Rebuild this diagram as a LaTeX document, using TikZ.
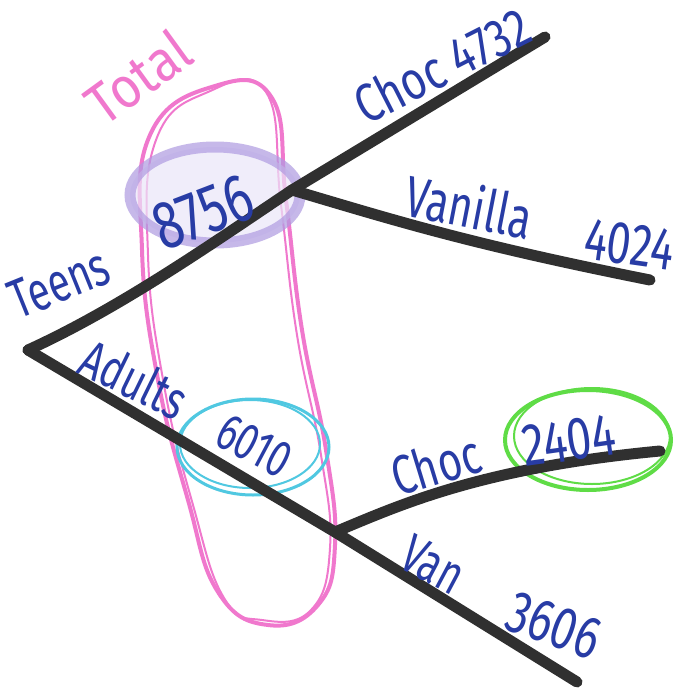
\documentclass[tikz,border=0pt]{standalone}
\usepackage{fontspec}
\setmainfont{Fira Sans}
\usepackage{graphicx}
\definecolor{penblue}{RGB}{40,60,165}
\definecolor{inkgray}{RGB}{48,48,48}
\definecolor{pinkhl}{RGB}{240,120,205}
\definecolor{purplehl}{RGB}{175,155,225}
\definecolor{cyanhl}{RGB}{80,200,225}
\definecolor{greenhl}{RGB}{95,220,70}
\newcommand{\hw}[3]{\scalebox{#2}[1]{\fontsize{#1}{#1}\selectfont #3}}
\begin{document}
\begin{tikzpicture}[x=1pt,y=-1pt,
  branch/.style={line width=11pt, draw=inkgray, line cap=round, line join=round},
  lab/.style={text=penblue, inner sep=0pt, anchor=base west},
  hl/.style={line width=4pt}
]
\useasboundingbox (0,0) rectangle (685,693);
\fill[white] (0,0) rectangle (685,693);

% highlighter marks
\draw[pinkhl, hl] plot[smooth cycle, tension=0.75] coordinates {
  (215,86) (272,98) (286,200) (302,330) (326,450) (335,545) (318,605) (268,625)
  (218,592) (188,500) (158,380) (142,250) (150,135)};
\draw[pinkhl, line width=2pt] plot[smooth cycle, tension=0.75] coordinates {
  (208,92) (266,92) (281,205) (297,335) (321,455) (330,548) (311,610) (262,620)
  (224,598) (193,505) (164,385) (148,255) (156,140)};
\draw[purplehl, line width=11pt, fill=purplehl!25, opacity=0.7]
  (215,195) ellipse [x radius=85, y radius=48];
\draw[cyanhl, line width=3pt] (253,447) ellipse [x radius=76, y radius=48];
\draw[cyanhl, line width=2pt] (250,444) ellipse [x radius=70, y radius=44];
\draw[greenhl, line width=4pt] (588,440) ellipse [x radius=83, y radius=50];
\draw[greenhl, line width=2pt] (592,436) ellipse [x radius=78, y radius=48];

% tree
\coordinate (root) at (28,350);
\coordinate (teenN) at (292,190);
\coordinate (adultN) at (335,532);
\coordinate (chocA) at (545,37);
\coordinate (vanA) at (650,280);
\coordinate (chocB) at (660,451);
\coordinate (vanB) at (577,682);

\draw[branch] (root) .. controls (120,308) and (210,245) .. (teenN);
\draw[branch] (teenN) -- (chocA);
\draw[branch] (teenN) .. controls (400,222) and (470,244) .. (vanA);
\draw[branch] (root) -- (adultN) -- (vanB);
\draw[branch] (adultN) .. controls (400,505) and (480,468) .. (chocB);

% labels
\node[lab, text=pinkhl, rotate=36] (total) at (104,128) {\hw{58}{0.88}{Total}};
\node[lab, rotate=27] (choc1) at (366,126) {\hw{54}{0.8}{Choc 4732}};
\node[lab, rotate=21] (n8756) at (163,252) {\hw{68}{0.75}{8756}};
\node[lab, rotate=-11] (vanilla) at (402,215) {\hw{58}{0.72}{Vanilla}};
\node[lab, rotate=-8] (n4024) at (582,258) {\hw{60}{0.72}{4024}};
\node[lab, rotate=22] (teens) at (18,320) {\hw{55}{0.72}{Teens}};
\node[lab, rotate=-26] (adults) at (75,372) {\hw{54}{0.72}{Adults}};
\node[lab, rotate=-28] (n6010) at (212,443) {\hw{52}{0.72}{6010}};
\node[lab, rotate=17] (choc2) at (398,497) {\hw{55}{0.75}{Choc}};
\node[lab, rotate=8] (n2404) at (525,467) {\hw{60}{0.75}{2404}};
\node[lab, rotate=-28] (van) at (396,566) {\hw{55}{0.7}{Van}};
\node[lab, rotate=-20] (n3606) at (502,628) {\hw{60}{0.75}{3606}};
\end{tikzpicture}
\end{document}
